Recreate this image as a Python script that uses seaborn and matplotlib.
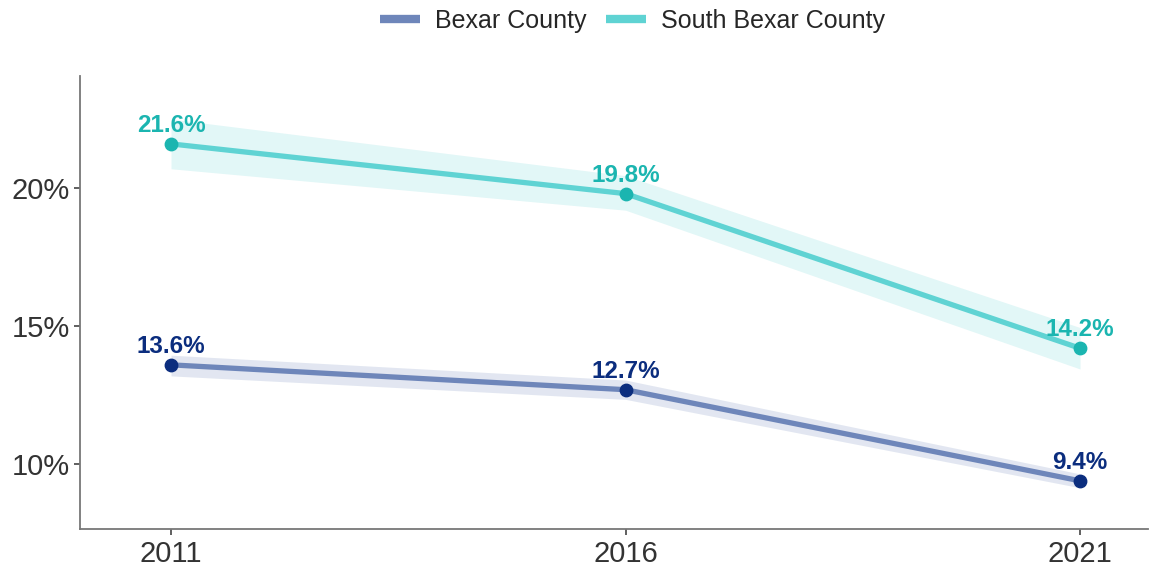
import numpy as np
import pandas as pd
import matplotlib
matplotlib.use("Agg")
import matplotlib.pyplot as plt
import seaborn as sns

years = [2011, 2016, 2021]
bexar = [13.6, 12.7, 9.4]
bexar_lo = [13.2, 12.35, 9.15]
bexar_hi = [13.95, 13.05, 9.65]
south = [21.6, 19.8, 14.2]
south_lo = [20.7, 19.2, 13.45]
south_hi = [22.5, 20.45, 14.95]
series_names = ["Bexar County", "South Bexar County"]

line_colors = ["#6e86ba", "#5fd3d3"]
dot_colors = ["#0b2d7e", "#1bb5b0"]

sns.set_style("white")
plt.rcParams['font.family'] = ['Liberation Sans', 'DejaVu Sans']

df = pd.DataFrame({
    "year": years * 2,
    "value": bexar + south,
    "series": [series_names[0]] * 3 + [series_names[1]] * 3,
})

fig = plt.figure(figsize=(11.61, 5.69), dpi=100)
ax = fig.add_axes([0.069, 0.070, 0.920, 0.796])

ax.fill_between(years, bexar_lo, bexar_hi, color=line_colors[0], alpha=0.2, lw=0)
ax.fill_between(years, south_lo, south_hi, color=line_colors[1], alpha=0.18, lw=0)

sns.lineplot(data=df, x="year", y="value", hue="series", palette=line_colors,
             linewidth=3.8, ax=ax, legend=True)

for vals, c in zip([bexar, south], dot_colors):
    ax.scatter(years, vals, s=80, color=c, zorder=5)
    for x, v in zip(years, vals):
        ax.annotate(f"{v:.1f}%", (x, v), xytext=(0, 5), textcoords="offset points",
                    ha="center", va="bottom", color=c, fontsize=17.5, fontweight="bold")

ax.set_xlim(2010, 2021.75)
ax.set_ylim(7.65, 24.05)
ax.set_xticks(years)
ax.set_xticklabels([str(y) for y in years])
ax.set_yticks([10, 15, 20])
ax.set_yticklabels(["10%", "15%", "20%"])
ax.set_xlabel("")
ax.set_ylabel("")
ax.tick_params(axis="both", labelsize=21, colors="#444444", length=4, width=1.2,
               direction="out", bottom=True, left=True)
for lab in ax.get_xticklabels() + ax.get_yticklabels():
    lab.set_color("#333333")
sns.despine(ax=ax)
for s in ["left", "bottom"]:
    ax.spines[s].set_color("#777777")
    ax.spines[s].set_linewidth(1.3)

handles, labels = ax.get_legend_handles_labels()
ax.get_legend().remove()
leg = fig.legend(handles, labels, loc="center", bbox_to_anchor=(0.545, 0.963),
                 ncol=2, frameon=False, fontsize=18, handlelength=1.6,
                 columnspacing=0.8, handletextpad=0.6)
for h in leg.get_lines():
    h.set_linewidth(6)
    h.set_solid_capstyle("butt")

fig.savefig("out.png", dpi=100)
